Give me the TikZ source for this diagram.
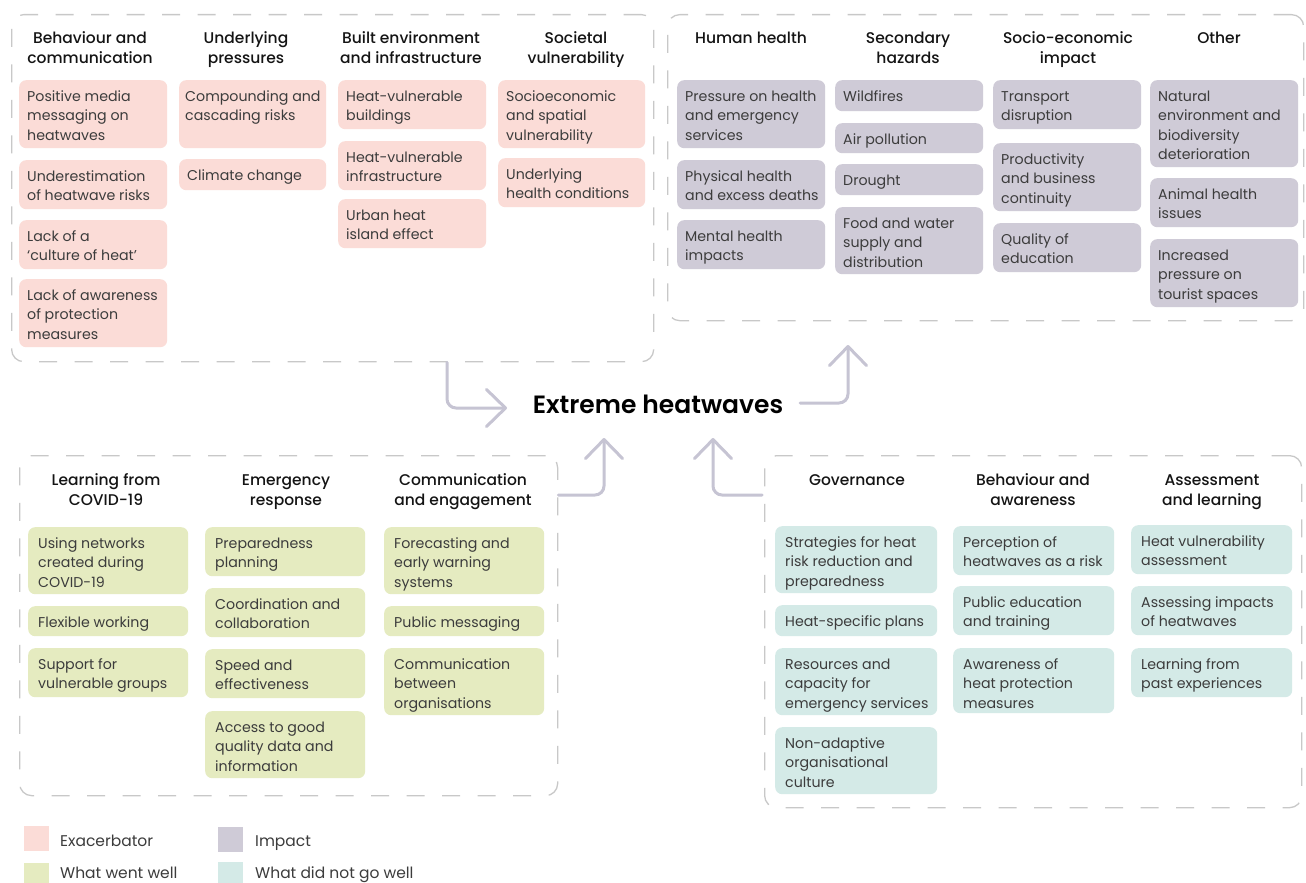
\documentclass[tikz,border=0pt]{standalone}
\usepackage{fontspec}
\setmainfont{Poppins}
\IfFontExistsTF{Poppins Medium}{\newfontfamily\headfam{Poppins Medium}}{\newfontfamily\headfam{Poppins}[FakeBold=1]}
\IfFontExistsTF{Poppins SemiBold}{\newfontfamily\titlefam{Poppins SemiBold}}{\newcommand\titlefam{\bfseries}}
\usetikzlibrary{arrows.meta}
\definecolor{exa}{HTML}{FBDCD7}
\definecolor{imp}{HTML}{CFCBD7}
\definecolor{good}{HTML}{E5EBC0}
\definecolor{bad}{HTML}{D4EAE7}
\definecolor{celltext}{HTML}{3C3C3C}
\definecolor{headtext}{HTML}{141414}
\definecolor{border}{HTML}{C8C8C8}
\definecolor{arrowc}{HTML}{C6C4D3}
\newcommand\cellstrut{\vrule width 0pt height 15pt depth 3pt}
\newcommand\headstrut{\vrule width 0pt height 14pt depth 0pt}
\newcommand\cpad{8}
\newcommand\cell[7]{%
  \node[cellsty, fill=#2, minimum width=#5pt, minimum height=#6pt] (#1) at (#3,#4) {};
  \node[celltxt] (#1t) at ([xshift=\cpad pt, yshift=-6pt]#1.north west) {\cellstrut#7};}
\tikzset{
  cellsty/.style={anchor=north west, inner sep=0pt, rounded corners=7pt},
  celltxt/.style={anchor=north west, inner sep=0pt, align=left,
    font=\fontsize{14.2}{19.5}\selectfont, text=celltext},
  headsty/.style={anchor=north, inner sep=0pt, align=center,
    font=\headfam\fontsize{15.5}{20}\selectfont, text=headtext},
  grp/.style={draw=border, line width=1.3pt, dash pattern=on 18pt off 17.5pt, rounded corners=12pt,
    anchor=north west, inner sep=0pt},
  flow/.style={draw=arrowc, line width=3pt, rounded corners=9pt, line cap=round,
    -{Straight Barb[length=19pt, width=37pt, round]}},
  legsq/.style={anchor=north west, minimum width=25pt, minimum height=25pt, inner sep=0pt},
  legtx/.style={anchor=base west, inner sep=0pt, font=\fontsize{15.5}{18}\selectfont, text=celltext},
}
\begin{document}
\begin{tikzpicture}[x=1pt,y=-1pt]
\useasboundingbox[fill=white] (0,0) rectangle (1306,883);

% group containers
\node[grp, minimum width=642pt, minimum height=347pt] (tl) at (11,14) {};
\node[grp, minimum width=636pt, minimum height=306pt] (tr) at (667,14) {};
\node[grp, minimum width=538pt, minimum height=340pt] (bl) at (19,455) {};
\node[grp, minimum width=537pt, minimum height=352pt] (br) at (764,455) {};

% ---------- top left: exacerbators ----------
\node[headsty] (htl1) at (90,29) {\headstrut Behaviour and\\communication};
\node[headsty] (htl2) at (246,29) {\headstrut Underlying\\pressures};
\node[headsty] (htl3) at (411,29) {\headstrut Built environment\\and infrastructure};
\node[headsty] (htl4) at (576,29) {\headstrut Societal\\vulnerability};

\cell{a1}{exa}{19}{80}{148}{68}{Positive media\\messaging on\\heatwaves}
\cell{a2}{exa}{19}{160}{148}{49}{Underestimation\\of heatwave risks}
\cell{a3}{exa}{19}{220}{148}{49}{Lack of a\\‘culture of heat’}
\cell{a4}{exa}{19}{279}{148}{68}{Lack of awareness\\of protection\\measures}
\renewcommand\cpad{6}
\cell{b1}{exa}{179}{80}{147}{68}{Compounding and\\cascading risks}
\renewcommand\cpad{8}
\cell{b2}{exa}{179}{159}{147}{31}{Climate change}
\cell{c1}{exa}{338}{80}{148}{49}{Heat-vulnerable\\buildings}
\cell{c2}{exa}{338}{141}{148}{49}{Heat-vulnerable\\infrastructure}
\cell{c3}{exa}{338}{199}{148}{49}{Urban heat\\island effect}
\cell{d1}{exa}{498}{80}{147}{68}{Socioeconomic\\and spatial\\vulnerability}
\cell{d2}{exa}{498}{158}{147}{49}{Underlying\\health conditions}

% ---------- top right: impacts ----------
\node[headsty] (htr1) at (751,29) {\headstrut Human health};
\node[headsty] (htr2) at (908,29) {\headstrut Secondary\\hazards};
\node[headsty] (htr3) at (1068,29) {\headstrut Socio-economic\\impact};
\node[headsty] (htr4) at (1219,29) {\headstrut Other};

\cell{e1}{imp}{677}{80}{148}{68}{Pressure on health\\and emergency\\services}
\cell{e2}{imp}{677}{160}{148}{49}{Physical health\\and excess deaths}
\cell{e3}{imp}{677}{220}{148}{49}{Mental health\\impacts}
\cell{f1}{imp}{835}{80}{148}{31}{Wildfires}
\cell{f2}{imp}{835}{123}{148}{30}{Air pollution}
\cell{f3}{imp}{835}{164}{148}{31}{Drought}
\cell{f4}{imp}{835}{207}{148}{67}{Food and water\\supply and\\distribution}
\cell{g1}{imp}{993}{80}{148}{49}{Transport\\disruption}
\cell{g2}{imp}{993}{143}{148}{68}{Productivity\\and business\\continuity}
\cell{g3}{imp}{993}{223}{148}{49}{Quality of\\education}
\cell{h1}{imp}{1150}{80}{148}{87}{Natural\\environment and\\biodiversity\\deterioration}
\cell{h2}{imp}{1150}{178}{148}{49}{Animal health\\issues}
\cell{h3}{imp}{1150}{239}{148}{68}{Increased\\pressure on\\tourist spaces}

% ---------- bottom left: what went well ----------
\node[headsty] (hbl1) at (106,471) {\headstrut Learning from\\COVID-19};
\node[headsty] (hbl2) at (286,471) {\headstrut Emergency\\response};
\node[headsty] (hbl3) at (463,471) {\headstrut Communication\\and engagement};

\renewcommand\cpad{10}
\cell{i1}{good}{28}{527}{160}{67}{Using networks\\created during\\COVID-19}
\cell{i2}{good}{28}{606}{160}{30}{Flexible working}
\cell{i3}{good}{28}{648}{160}{49}{Support for\\vulnerable groups}
\cell{j1}{good}{205}{527}{160}{49}{Preparedness\\planning}
\cell{j2}{good}{205}{588}{160}{49}{Coordination and\\collaboration}
\cell{j3}{good}{205}{649}{160}{49}{Speed and\\effectiveness}
\cell{j4}{good}{205}{711}{160}{67}{Access to good\\quality data and\\information}
\cell{k1}{good}{384}{527}{160}{67}{Forecasting and\\early warning\\systems}
\cell{k2}{good}{384}{606}{160}{30}{Public messaging}
\cell{k3}{good}{384}{648}{160}{67}{Communication\\between\\organisations}

% ---------- bottom right: what did not go well ----------
\node[headsty] (hbr1) at (857,471) {\headstrut Governance};
\node[headsty] (hbr2) at (1033,471) {\headstrut Behaviour and\\awareness};
\node[headsty] (hbr3) at (1212,471) {\headstrut Assessment\\and learning};

\cell{l1}{bad}{775}{526}{162}{67}{Strategies for heat\\risk reduction and\\preparedness}
\cell{l2}{bad}{775}{605}{162}{31}{Heat-specific plans}
\cell{l3}{bad}{775}{648}{162}{67}{Resources and\\capacity for\\emergency services}
\cell{l4}{bad}{775}{727}{162}{67}{Non-adaptive\\organisational\\culture}
\cell{m1}{bad}{953}{526}{161}{49}{Perception of\\heatwaves as a risk}
\cell{m2}{bad}{953}{586}{161}{49}{Public education\\and training}
\cell{m3}{bad}{953}{648}{161}{65}{Awareness of\\heat protection\\measures}
\cell{n1}{bad}{1131}{525}{161}{49}{Heat vulnerability\\assessment}
\cell{n2}{bad}{1131}{586}{161}{49}{Assessing impacts\\of heatwaves}
\cell{n3}{bad}{1131}{648}{161}{49}{Learning from\\past experiences}

% ---------- centre ----------
\node[anchor=base, inner sep=0pt, font=\titlefam\fontsize{25}{30}\selectfont, text=black] (title) at (658,413) {Extreme heatwaves};

\coordinate (x1) at (447,0);
\coordinate (e1) at (507,408);
\coordinate (s2) at (800,403);
\coordinate (e2) at (848,345);
\coordinate (y3) at (0,495);
\coordinate (e3) at (604,438);
\coordinate (e4) at (713,438);

\draw[flow] (tl.south -| x1) |- (e1);
\draw[flow] (s2) -| (e2);
\draw[flow] (bl.east |- y3) -| (e3);
\draw[flow] ([xshift=-2pt]br.west |- y3) -| (e4);

% ---------- legend ----------
\node[legsq, fill=exa] (lg1) at (24,826) {};
\node[legtx] (lt1) at (60,846) {Exacerbator};
\node[legsq, fill=imp] (lg2) at (218,827) {};
\node[legtx] (lt2) at (255,846) {Impact};
\node[legsq, fill=good] (lg3) at (24,863) {};
\node[legtx] (lt3) at (60,878) {What went well};
\node[legsq, fill=bad] (lg4) at (218,862) {};
\node[legtx] (lt4) at (255,878) {What did not go well};
\end{tikzpicture}
\end{document}
